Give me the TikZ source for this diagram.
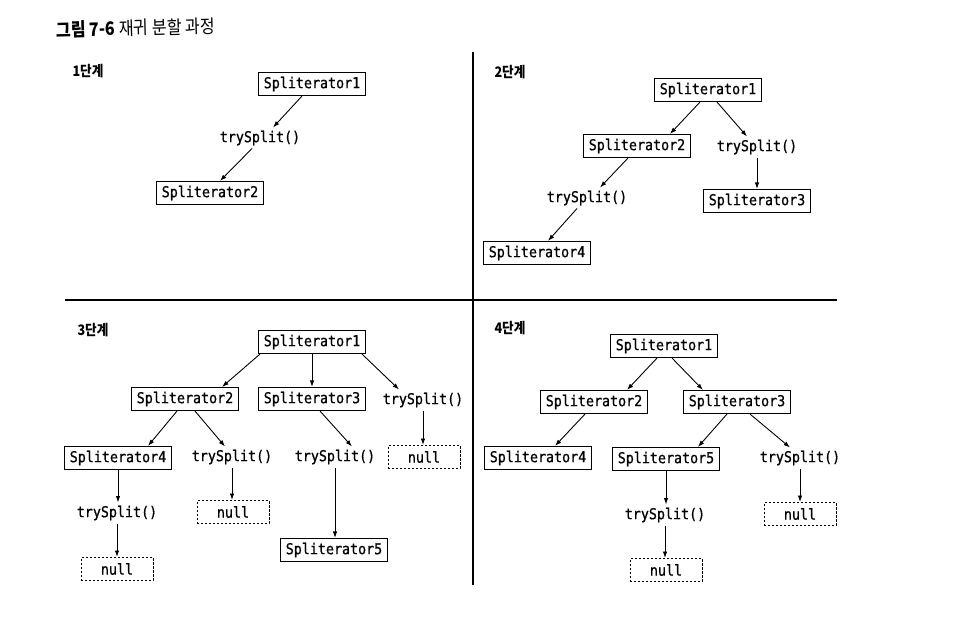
\documentclass[tikz,border=0pt]{standalone}
\usepackage{fontspec}
\setmonofont{DejaVu Sans Mono}[FakeStretch=0.89, FakeBold=0.8]
\newfontfamily\kr{Noto Sans CJK KR}[FakeStretch=0.87]
\usetikzlibrary{arrows.meta}
\newcommand\codefont{\ttfamily\fontsize{15}{15}\selectfont}
\tikzset{
 sbox/.style={draw, line width=1.1pt, minimum width=107pt, minimum height=23pt, inner sep=0pt, font=\codefont},
 nbox/.style={draw, dash pattern=on 2.4pt off 1.6pt, line width=1pt, minimum width=72pt, minimum height=23pt, inner sep=0pt, font=\codefont},
 lbl/.style={inner sep=3pt, font=\codefont},
 arr/.style={-{Latex[length=6.5pt,width=4.5pt]}, line width=0.9pt},
 stage/.style={font=\kr\bfseries\fontsize{14.5}{14.5}\selectfont, inner sep=0pt},
 divider/.style={line width=1.2pt},
}
\begin{document}
\begin{tikzpicture}[x=1pt,y=-1pt]
\useasboundingbox (0,0) rectangle (960,616);
% title
\node[anchor=west, inner sep=0pt, rotate=1.5] (title) at (56,30) {\kr\fontsize{18.5}{18.5}\selectfont\bfseries 그림 7-6\mdseries\ 재귀 분할 과정};
% dividers
\draw[divider] (473,52) -- (473,585);
\draw[divider] (65,300) -- (837,300);
% ---------- stage 1
\node[stage] (st1) at (88,71) {1단계};
\node[sbox] (a1) at (312,84) {Spliterator1};
\node[lbl] (a1t) at (260,138) {trySplit()};
\node[sbox] (a2) at (210,193) {Spliterator2};
\draw[arr] ([xshift=-10]a1.south) -- ([xshift=13]a1t.north);
\draw[arr] ([xshift=-8]a1t.south) -- ([xshift=10]a2.north);
% ---------- stage 2
\node[stage] (st2) at (510,72) {2단계};
\node[sbox] (b1) at (708,90) {Spliterator1};
\node[sbox] (b2) at (637,146) {Spliterator2};
\node[lbl] (b3t) at (757,147) {trySplit()};
\node[sbox] (b3) at (757,201) {Spliterator3};
\node[lbl] (b4t) at (587,198) {trySplit()};
\node[sbox] (b4) at (537,253) {Spliterator4};
\draw[arr] ([xshift=-8]b1.south) -- ([xshift=33]b2.north);
\draw[arr] ([xshift=9]b1.south) -- ([xshift=-10]b3t.north);
\draw[arr] (b3t.south) -- (b3.north);
\draw[arr] ([xshift=-9]b2.south) -- ([xshift=13]b4t.north);
\draw[arr] ([xshift=-10]b4t.south) -- ([xshift=11]b4.north);
% ---------- stage 3
\node[stage] (st3) at (93,330) {3단계};
\node[sbox] (c1) at (312,342) {Spliterator1};
\node[sbox] (c2) at (185,399) {Spliterator2};
\node[sbox] (c3) at (312,399) {Spliterator3};
\node[lbl] (c4t) at (423,400) {trySplit()};
\node[nbox] (c4n) at (424,457) {null};
\node[sbox] (c5) at (118,458) {Spliterator4};
\node[lbl] (c6t) at (232,457) {trySplit()};
\node[lbl] (c7t) at (335,457) {trySplit()};
\node[lbl] (c8t) at (117,513) {trySplit()};
\node[nbox] (c6n) at (233,512) {null};
\node[sbox] (c7) at (334,550) {Spliterator5};
\node[nbox] (c8n) at (117,569) {null};
\draw[arr] ([xshift=-52]c1.south) -- ([xshift=37]c2.north);
\draw[arr] (c1.south) -- (c1.south |- c3.north);
\draw[arr] ([xshift=50]c1.south) -- ([xshift=-24]c4t.north);
\draw[arr] (c4t.south) -- (c4t.south |- c4n.north);
\draw[arr] ([xshift=-8]c2.south) -- ([xshift=30]c5.north);
\draw[arr] ([xshift=10]c2.south) -- ([xshift=-7]c6t.north);
\draw[arr] ([xshift=8]c3.south) -- ([xshift=17]c7t.north);
\draw[arr] (c5.south) -- (c5.south |- c8t.north);
\draw[arr] (c6t.south) -- (c6t.south |- c6n.north);
\draw[arr] (c7t.south) -- (c7t.south |- c7.north);
\draw[arr] (c8t.south) -- (c8t.south |- c8n.north);
% ---------- stage 4
\node[stage] (st4) at (510,328) {4단계};
\node[sbox] (d1) at (664,346) {Spliterator1};
\node[sbox] (d2) at (594,402) {Spliterator2};
\node[sbox] (d3) at (737,402) {Spliterator3};
\node[sbox] (d4) at (538,458) {Spliterator4};
\node[sbox] (d5) at (666,459) {Spliterator5};
\node[lbl] (d6t) at (800,458) {trySplit()};
\node[lbl] (d7t) at (665,515) {trySplit()};
\node[nbox] (d6n) at (800,514) {null};
\node[nbox] (d7n) at (666,570) {null};
\draw[arr] ([xshift=-7]d1.south) -- ([xshift=33]d2.north);
\draw[arr] ([xshift=8]d1.south) -- ([xshift=-34]d3.north);
\draw[arr] ([xshift=-9]d2.south) -- ([xshift=17]d4.north);
\draw[arr] ([xshift=-10]d3.south) -- ([xshift=32]d5.north);
\draw[arr] ([xshift=13]d3.south) -- ([xshift=-10]d6t.north);
\draw[arr] (d6t.south) -- (d6t.south |- d6n.north);
\draw[arr] (d5.south) -- (d5.south |- d7t.north);
\draw[arr] (d7t.south) -- (d7t.south |- d7n.north);
\end{tikzpicture}
\end{document}
